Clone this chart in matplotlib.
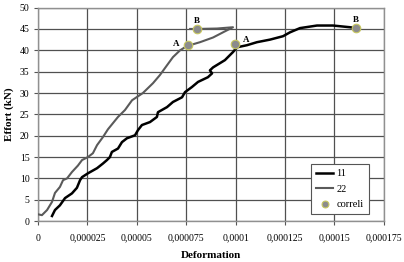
import matplotlib
matplotlib.use("Agg")
import matplotlib.pyplot as plt

plt.rcParams['font.family'] = ['Liberation Serif', 'DejaVu Serif']

# Series 11 (black)
x11 = [7.1e-6, 8.6e-6, 11.1e-6, 13.7e-6, 17.2e-6, 19.7e-6, 21.3e-6, 22.3e-6, 25.3e-6,
       29.9e-6, 32.9e-6, 34.9e-6, 36.4e-6, 37.4e-6, 40.5e-6, 42.5e-6, 45.0e-6, 49.1e-6,
       50.6e-6, 52.6e-6, 56.7e-6, 60.2e-6, 60.7e-6, 65.3e-6, 68.3e-6, 72.9e-6, 74.4e-6,
       77.9e-6, 81.0e-6, 86.0e-6, 88.1e-6, 87.0e-6, 88.6e-6, 94.6e-6, 98.7e-6, 100.7e-6,
       105.8e-6, 110.8e-6, 117.4e-6, 124.0e-6, 127.5e-6, 132.6e-6, 141.2e-6, 149.3e-6,
       157.9e-6, 160.9e-6]
y11 = [1.2, 2.6, 3.7, 5.4, 6.5, 7.8, 9.6, 10.3, 11.2,
       12.4, 13.5, 14.3, 15.0, 16.2, 17.0, 18.5, 19.4, 20.1,
       21.3, 22.5, 23.2, 24.4, 25.5, 26.7, 27.9, 29.0, 30.2,
       31.4, 32.6, 33.7, 34.6, 35.3, 36.0, 37.7, 39.6, 40.7,
       41.2, 41.9, 42.5, 43.3, 44.2, 45.2, 45.8, 45.8,
       45.4, 45.2]

# Series 22 (grey)
x22 = [0.0, 2.0e-6, 4.6e-6, 7.1e-6, 8.6e-6, 11.1e-6, 12.7e-6, 14.7e-6, 17.2e-6, 20.2e-6,
       22.3e-6, 25.3e-6, 27.8e-6, 29.9e-6, 32.9e-6, 35.4e-6, 40.5e-6, 44.0e-6, 47.6e-6,
       53.1e-6, 58.2e-6, 61.7e-6, 65.3e-6, 68.3e-6, 71.9e-6, 75.4e-6, 82.0e-6, 88.6e-6,
       93.6e-6, 98.7e-6, 90.6e-6, 80.5e-6, 77.0e-6]
y22 = [1.6, 1.4, 2.6, 4.5, 6.6, 8.0, 9.6, 10.0, 11.5, 13.0,
       14.3, 15.0, 15.9, 17.8, 19.7, 21.5, 24.4, 26.0, 28.3,
       30.0, 32.3, 34.2, 36.5, 38.4, 40.0, 41.0, 41.9, 43.0,
       44.2, 45.4, 45.1, 45.0, 45.0]

# Correlation points
xc = [75.7e-6, 80.3e-6, 99.7e-6, 161.0e-6]
yc = [41.2, 45.0, 41.5, 45.2]
labels_c = ['A', 'B', 'A', 'B']

xticks = [0, 0.000025, 0.00005, 0.000075, 0.0001, 0.000125, 0.00015, 0.000175]
xticklabels = ['0', '0,000025', '0,00005', '0,000075', '0,0001', '0,000125', '0,00015', '0,000175']
yticks = [0, 5, 10, 15, 20, 25, 30, 35, 40, 45, 50]

fig = plt.figure(figsize=(4.04, 2.62), dpi=100)
ax = fig.add_axes([0.094, 0.156, 0.856, 0.815])

ax.plot(x11, y11, color='black', lw=1.8, label='11', zorder=3)
ax.plot(x22, y22, color='#5a5a5a', lw=1.5, label='22', zorder=3)
ax.scatter(xc, yc, s=38, color='#8c8c8c', edgecolors='#c8c860', linewidths=0.8,
           label='correli', zorder=4)

offsets = [(-8, 1), (0, 6), (8, 3), (0, 6)]
for x, y, t, (dx, dy) in zip(xc, yc, labels_c, offsets):
    ax.annotate(t, (x, y), xytext=(dx, dy), textcoords='offset points',
                ha='center', va='center', fontsize=6.5, fontweight='bold', zorder=5)

ax.set_xlim(0, 0.000175)
ax.set_ylim(0, 50)
ax.set_xticks(xticks)
ax.set_xticklabels(xticklabels)
ax.set_yticks(yticks)
ax.tick_params(axis='both', labelsize=7, length=3, width=0.8, color='#555555', direction='out', pad=3)
ax.tick_params(axis='x', pad=6)
ax.grid(True, color='#505050', lw=0.9)
for s in ax.spines.values():
    s.set_color('#909090')
    s.set_linewidth(1.0)

ax.set_xlabel('Deformation', fontsize=8, fontweight='bold', labelpad=6)
ax.set_ylabel('Effort (kN)', fontsize=8, fontweight='bold', labelpad=4)

leg = ax.legend(loc='lower right', bbox_to_anchor=(0.965, 0.02), fontsize=7.5, frameon=True,
                fancybox=False, edgecolor='#555555', framealpha=1, handlelength=1.6,
                borderpad=0.5, labelspacing=0.55, handletextpad=0.3, borderaxespad=0.3,
                markerscale=0.8)
leg.get_frame().set_linewidth(0.8)
for t in leg.get_texts():
    pass

# widen legend box to the left by padding labels area
leg._legend_box.align = 'left'

fig.savefig('out.png', dpi=100)
